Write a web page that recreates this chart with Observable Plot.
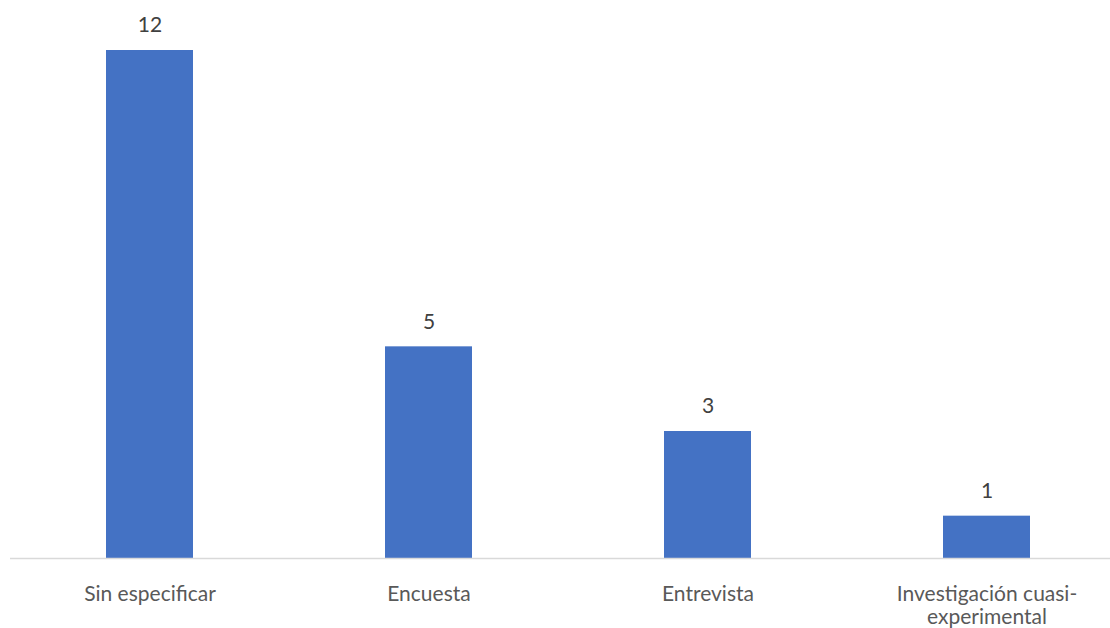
<!DOCTYPE html>
<html><head><meta charset="utf-8">
<script src="https://cdn.jsdelivr.net/npm/d3@7"></script>
<script src="https://cdn.jsdelivr.net/npm/@observablehq/plot@0.6"></script>
<style>html,body{margin:0;background:#fff;overflow:hidden;} svg{display:block;}</style>
</head><body><div id="chart"></div>
<script>
const categories = ["Sin especificar", "Encuesta", "Entrevista", "Investigación cuasi-experimental"];
const values = [12, 5, 3, 1];
const tickLabels = ["Sin especificar", "Encuesta", "Entrevista", "Investigación cuasi-\nexperimental"];

const data = categories.map((c, i) => ({category: c, value: values[i]}));
const font = "Lato, 'Noto Sans', sans-serif";

const chart = Plot.plot({
  width: 1110,
  height: 628,
  marginLeft: 10,
  marginRight: 0,
  marginTop: 50,
  marginBottom: 70,
  style: {fontFamily: font, fontSize: "21px", color: "#595959", background: "#fff", overflow: "hidden"},
  x: {domain: categories, range: [10, 1126], paddingInner: 0.688, paddingOuter: 0.344, align: 0.5},
  y: {domain: [0, 12], range: [558, 50], axis: null},
  marks: [
    Plot.barY(data, {x: "category", y: "value", fill: "#4472C4"}),
    Plot.ruleY([0], {stroke: "#d9d9d9", strokeWidth: 1.5, insetRight: -30}),
    Plot.text(data, {x: "category", y: "value", text: d => String(d.value), dy: -25, fill: "#404040", fontSize: 21}),
    Plot.axisX({tickSize: 0, tickPadding: 25, fill: "#595959", fontSize: 21,
      tickFormat: d => tickLabels[categories.indexOf(d)], lineHeight: 1.14, label: null})
  ]
});
document.getElementById("chart").appendChild(chart);
</script>
</body></html>
